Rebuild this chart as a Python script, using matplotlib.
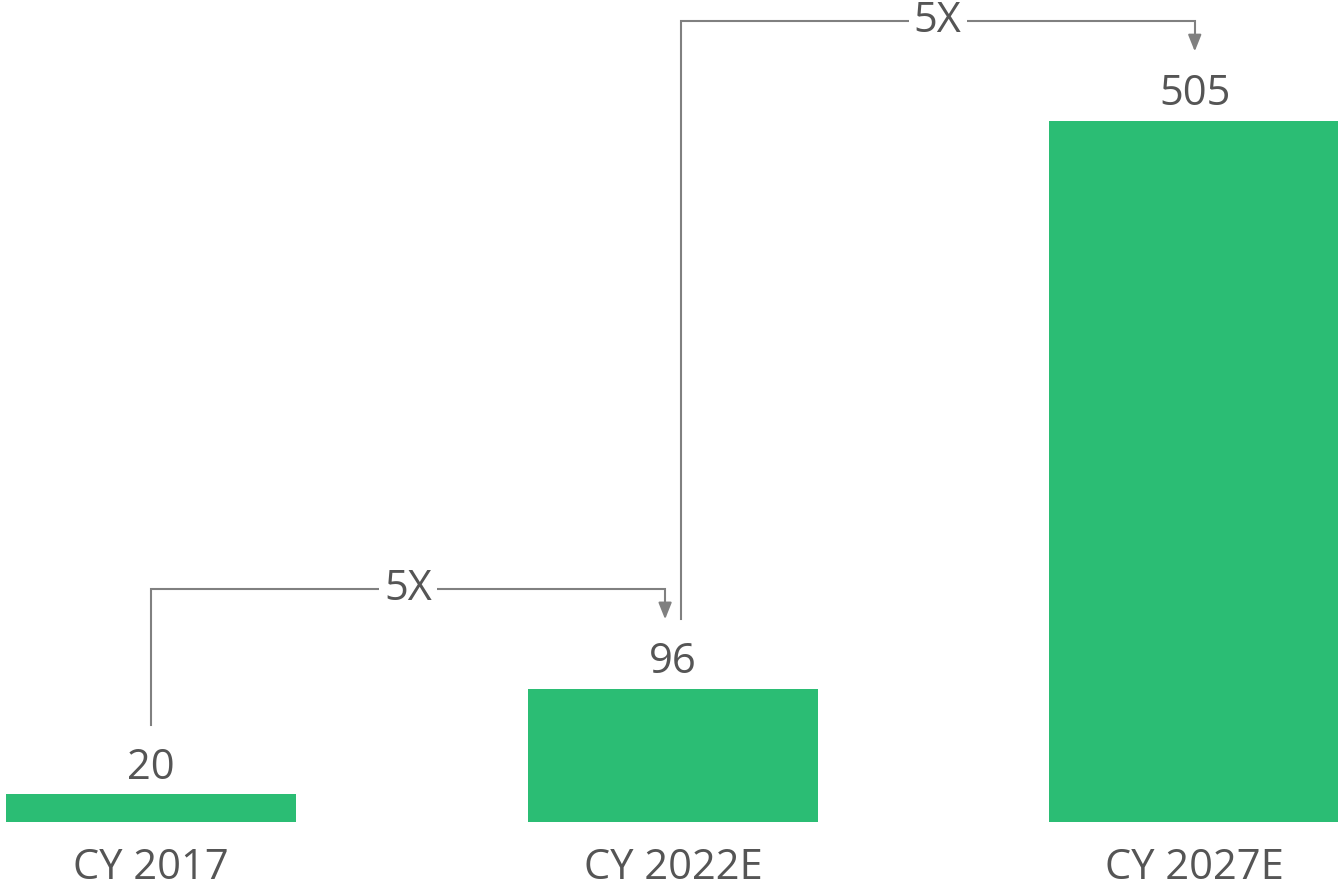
import matplotlib
matplotlib.use("Agg")
import matplotlib.pyplot as plt

categories = ["CY 2017", "CY 2022E", "CY 2027E"]
values = [20, 96, 505]
growth_labels = ["5X", "5X"]

BAR_COLOR = "#2BBD74"
TEXT_COLOR = "#555555"
LINE_COLOR = "#808080"
FONT = ["Open Sans", "DejaVu Sans"]

fig = plt.figure(figsize=(13.38, 8.88), dpi=100)
ax = fig.add_axes([0, 66 / 888, 1, 822 / 888])
x = list(range(len(categories)))
ax.bar(x, values, width=0.557, color=BAR_COLOR)
ax.set_xlim(-0.2895, 2.2745)
ax.set_ylim(0, 592)
for s in ax.spines.values():
    s.set_visible(False)
ax.set_yticks([])
ax.set_xticks(x)
ax.set_xticklabels(categories, fontsize=30, color=TEXT_COLOR, family=FONT)
ax.tick_params(axis="x", length=0, pad=18)

for xi, v in zip(x, values):
    ax.text(xi, v + 19, str(v), ha="center", va="center", fontsize=30,
            color=TEXT_COLOR, family=FONT)

# growth brackets
for i, lab in enumerate(growth_labels):
    src, dst = i, i + 1
    x0 = src + (0.015 if i > 0 else 0.0)
    x1 = dst + (-0.015 if dst < 2 else 0.0)
    y_start = values[src] + 50
    y_top = values[dst] + 72
    y_tip = values[dst] + 50
    ax.plot([x0, x0, x1, x1], [y_start, y_top, y_top, y_tip + 8],
            color=LINE_COLOR, lw=1.5, solid_joinstyle="miter", zorder=2)
    ax.annotate("", xy=(x1, y_tip), xytext=(x1, y_tip + 12),
                arrowprops=dict(arrowstyle="-|>,head_width=0.4,head_length=1.0",
                                color=LINE_COLOR, lw=1.5, shrinkA=0, shrinkB=0))
    ax.text((x0 + x1) / 2, y_top, lab, ha="center", va="center", fontsize=30,
            color=TEXT_COLOR, family=FONT, zorder=3,
            bbox=dict(boxstyle="square,pad=0.12", fc="white", ec="none"))

fig.savefig("out.png", dpi=100)
